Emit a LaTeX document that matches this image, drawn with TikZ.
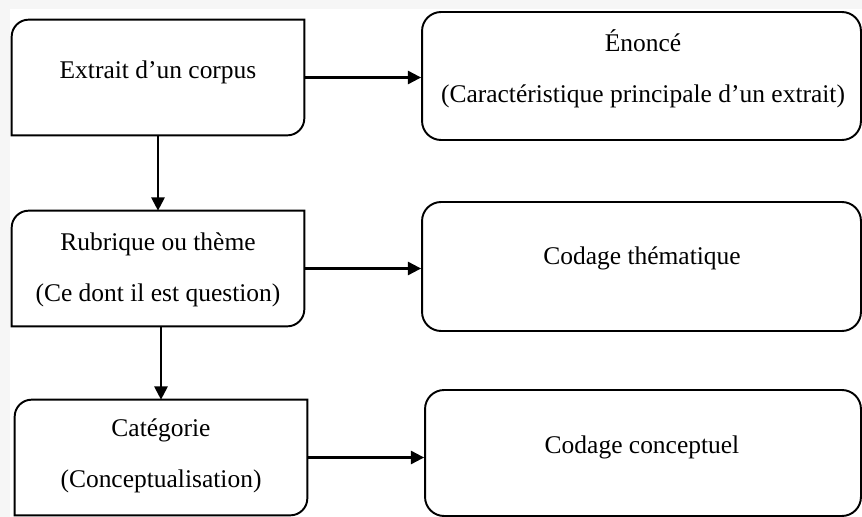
\documentclass[tikz,border=0pt]{standalone}
\usepackage{fontspec}
\setmainfont{Liberation Serif}
\usetikzlibrary{arrows.meta}

% box with only the top left and bottom right corners rounded
\newcommand{\cutbox}[1]{%
  \draw[line width=1.1pt] (#1.south west) -- ([yshift=-0.34cm]#1.north west)
    arc[start angle=180, end angle=90, radius=0.34cm]
    -- (#1.north east) -- ([yshift=0.34cm]#1.south east)
    arc[start angle=0, end angle=-90, radius=0.34cm]
    -- cycle;}

\begin{document}
\begin{tikzpicture}[
        x=0.02cm, y=0.02cm,
        leftbox/.style={rectangle, inner sep=0pt, minimum width=5.84cm, minimum height=2.3cm},
        rightbox/.style={rectangle, draw, line width=1.1pt, rounded corners=0.38cm, inner sep=0pt, minimum width=8.78cm},
        boxtext/.style={align=center, inner sep=0pt, font=\fontsize{14.5}{29}\selectfont},
        arrow/.style={-{Triangle[length=7.5pt, width=7.5pt]}, line width=1.2pt}
    ]

    % background
    \fill[gray!7] (0,0) rectangle (862,-517);
    \fill[white] (10,-9) rectangle (862,-517);
    \useasboundingbox (0,0) rectangle (862,-517);

    \node[leftbox] (extrait) at (158,-77.5) {};
    \node[leftbox] (rubrique) at (158,-268.5) {};
    \node[leftbox] (categorie) at (161,-457.5) {};
    \cutbox{extrait}
    \cutbox{rubrique}
    \cutbox{categorie}

    \node[rightbox, minimum height=2.56cm] (enonce) at (641.5,-76) {};
    \node[rightbox, minimum height=2.58cm] (thema) at (641.5,-266.5) {};
    \node[rightbox, minimum width=8.72cm, minimum height=2.52cm] (concept) at (643,-453) {};

    \node[boxtext] (textrait) at (158,-72) {Extrait d’un corpus};
    \node[boxtext] (trubrique) at (158,-269.5) {Rubrique ou thème\\(Ce dont il est question)};
    \node[boxtext] (tcategorie) at (161,-456) {Catégorie\\(Conceptualisation)};
    \node[boxtext] (tenonce) at (643,-69) {Énoncé\\(Caractéristique principale d’un extrait)};
    \node[boxtext] (tthema) at (642,-258) {Codage thématique};
    \node[boxtext] (tconcept) at (642,-447) {Codage conceptuel};

    \draw[arrow] (extrait) -- (enonce.west |- extrait.east);
    \draw[arrow] (rubrique) -- (thema.west |- rubrique.east);
    \draw[arrow] (categorie) -- (concept.west |- categorie.east);
    \draw[arrow] (extrait) -- (rubrique);
    \draw[arrow] (rubrique.south -| categorie.north) -- (categorie);

\end{tikzpicture}
\end{document}
